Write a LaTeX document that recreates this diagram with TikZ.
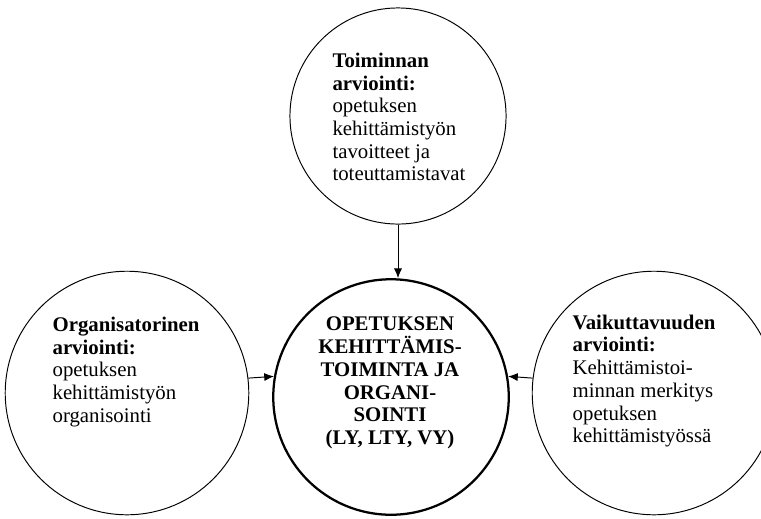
\documentclass[tikz,border=0pt]{standalone}
\usepackage{fontspec}
\setmainfont{Liberation Serif}
\usetikzlibrary{arrows.meta}

\begin{document}
\begin{tikzpicture}[x=0.62pt, y=-0.62pt, font=\fontsize{12.9pt}{14.1pt}\selectfont]
\useasboundingbox (0,0) rectangle (761,518);
\node[draw, circle, line width=0.6pt, minimum size=134pt] (yla) at (398,116) {};
\node[draw, circle, line width=1.4pt, minimum size=146pt] (keski) at (391,397) {};
\node[draw, circle, line width=0.6pt, minimum size=151pt] (org) at (127,393) {};
\node[draw, circle, line width=0.6pt, minimum size=151pt] (vaik) at (654,393) {};

\node[align=left, inner sep=0pt] (ylateksti) at (399,117) {\textbf{Toiminnan}\\ \textbf{arviointi:}\\ opetuksen\\ kehittämistyön\\ tavoitteet ja\\ toteuttamistavat};
\node[align=center, inner sep=0pt, font=\fontsize{12.9pt}{14.1pt}\selectfont\bfseries] (keskiteksti) at (390,383) {OPETUKSEN\\ KEHITTÄMIS-\\ TOIMINTA JA\\ ORGANI-\\ SOINTI\\ (LY, LTY, VY)};
\node[align=left, inner sep=0pt] (orgteksti) at (126,372) {\textbf{Organisatorinen}\\ \textbf{arviointi:}\\ opetuksen\\ kehittämistyön\\ organisointi};
\node[align=left, inner sep=0pt] (vaikteksti) at (644,381) {\textbf{Vaikuttavuuden}\\ \textbf{arviointi:}\\ Kehittämistoi-\\ minnan merkitys\\ opetuksen\\ kehittämistyössä};

\draw[-{Latex[length=6pt, width=5pt]}, line width=0.6pt] (yla.south) -- (yla.south |- keski.north);
\draw[-{Latex[length=6pt, width=5pt]}, line width=0.6pt] (org.7) -- (keski.170);
\draw[-{Latex[length=6pt, width=5pt]}, line width=0.6pt] (vaik.173) -- (keski.10);
\end{tikzpicture}
\end{document}
